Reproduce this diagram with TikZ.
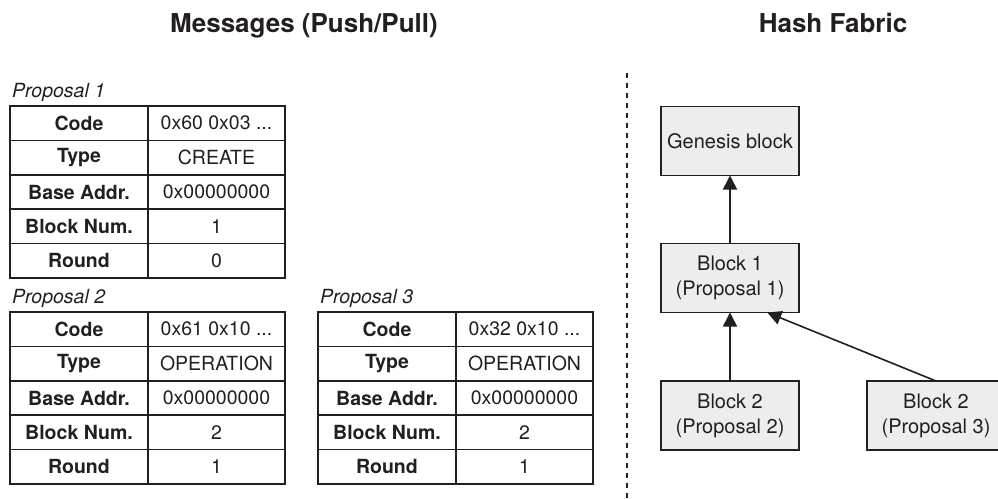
\documentclass[tikz,border=0pt]{standalone}
\usepackage{fontspec}
\setmainfont{TeX Gyre Heros}
\usepackage{tikz}
\usetikzlibrary{positioning}
\usetikzlibrary{calc}
\usetikzlibrary{arrows.meta}
\definecolor{ink}{HTML}{231F20}
\definecolor{blockgray}{HTML}{EDEDED}
\tikzset{
  cell/.style={draw=ink,line width=1.6pt,minimum height=34.4pt,inner sep=0pt,outer sep=0pt,text=ink},
  key cell/.style={cell,minimum width=138pt,font=\fontsize{19.5}{23}\selectfont\bfseries},
  value cell/.style={cell,minimum width=137pt,font=\fontsize{19.5}{23}\selectfont},
  tag/.style={anchor=base west,inner sep=0pt,text=ink,font=\fontsize{19.5}{23}\selectfont\itshape},
  title/.style={anchor=base,inner sep=0pt,text=ink,font=\fontsize{26}{30}\selectfont\bfseries},
  block node/.style={draw=ink,fill=blockgray,line width=1.6pt,minimum width=138pt,minimum height=69pt,
    inner sep=0pt,outer sep=0pt,align=center,text=ink,font=\fontsize{20}{25}\selectfont},
  link/.style={draw=ink,line width=1.6pt,-{Triangle[length=14pt,width=14pt]}},
  divider/.style={draw=ink,line width=1.5pt,dash pattern=on 5pt off 5pt}
}

% one message: name, left, top, caption, code, type, address, block number, round
\newcommand{\proposaltable}[9]{%
  \node[tag] (#1-tag) at (#2+2,#3-9) {#4};
  \node[key cell,anchor=north west] (#1-code) at (#2,#3) {Code};
  \node[key cell,below=0pt of #1-code] (#1-type) {Type};
  \node[key cell,below=0pt of #1-type] (#1-addr) {Base Addr.};
  \node[key cell,below=0pt of #1-addr] (#1-num) {Block Num.};
  \node[key cell,below=0pt of #1-num] (#1-round) {Round};
  \node[value cell,right=0pt of #1-code] (#1-code-v) {#5};
  \node[value cell,right=0pt of #1-type] (#1-type-v) {#6};
  \node[value cell,right=0pt of #1-addr] (#1-addr-v) {#7};
  \node[value cell,right=0pt of #1-num] (#1-num-v) {#8};
  \node[value cell,right=0pt of #1-round] (#1-round-v) {#9};
}

\begin{document}
\begin{tikzpicture}[x=1pt,y=-1pt]
  \clip (0,0) rectangle (998,498);

  \node[title] (msg title) at (304,32) {Messages (Push/Pull)};
  \node[title] (fabric title) at (833,32) {Hash Fabric};

  \proposaltable{p1}{10}{106}{Proposal 1}{0x60 0x03 ...}{CREATE}{0x00000000}{1}{0}
  \proposaltable{p2}{10}{312}{Proposal 2}{0x61 0x10 ...}{OPERATION}{0x00000000}{2}{1}
  \proposaltable{p3}{318}{312}{Proposal 3}{0x32 0x10 ...}{OPERATION}{0x00000000}{2}{1}

  \coordinate (split top) at (627,73);
  \coordinate (split bottom) at (627,498);
  \draw[divider] (split top) -- (split bottom);

  \node[block node] (genesis) at (730,141) {Genesis block};
  \node[block node,below=68pt of genesis] (block1) {Block 1\\(Proposal 1)};
  \node[block node,below=68.5pt of block1] (block2a) {Block 2\\(Proposal 2)};
  \node[block node,right=68pt of block2a] (block2b) {Block 2\\(Proposal 3)};

  \draw[link] (block1) -- (genesis);
  \draw[link] (block2a) -- (block1);
  \draw[link] (block2b.north) -- ($(block1.south)!0.54!(block1.south east)$);
\end{tikzpicture}
\end{document}
